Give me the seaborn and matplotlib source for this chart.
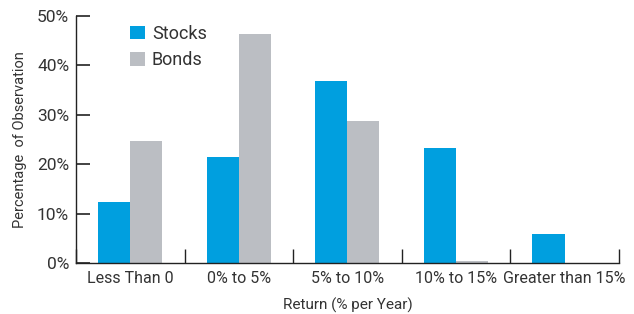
import numpy as np
import pandas as pd
import seaborn as sns
import matplotlib.pyplot as plt
from matplotlib.ticker import PercentFormatter, FixedLocator

categories = ["Less Than 0", "0% to 5%", "5% to 10%", "10% to 15%", "Greater than 15%"]
stocks = [12.3, 21.5, 36.8, 23.3, 5.9]
bonds = [24.7, 46.4, 28.7, 0.4, 0.0]

df = pd.DataFrame({
    "Return": categories * 2,
    "Pct": stocks + bonds,
    "Asset": ["Stocks"] * len(categories) + ["Bonds"] * len(categories),
})

sns.set_style("white", {"ytick.left": True, "xtick.bottom": True})
plt.rcParams["font.family"] = ["Roboto", "DejaVu Sans"]
text_col = "#333333"

fig = plt.figure(figsize=(6.34, 3.14), dpi=100)
ax = fig.add_axes([0.12, 0.162, 0.856, 0.787])

sns.barplot(data=df, x="Return", y="Pct", hue="Asset",
            palette={"Stocks": "#009FDF", "Bonds": "#BBBEC3"},
            width=0.59, saturation=1, linewidth=0, ax=ax, legend=True)

ax.set_xlim(-0.5, 4.5)
ax.set_ylim(0, 50)
ax.yaxis.set_major_locator(FixedLocator(np.arange(0, 51, 10)))
ax.yaxis.set_major_formatter(PercentFormatter(decimals=0))
ax.xaxis.set_minor_locator(FixedLocator(np.arange(-0.5, 4.6, 1)))

for side in ["top", "right"]:
    ax.spines[side].set_visible(False)
for side in ["left", "bottom"]:
    ax.spines[side].set_color("#222222")
    ax.spines[side].set_linewidth(1.0)

ax.yaxis.set_ticks_position("left")
ax.tick_params(axis="y", which="major", left=True, direction="in", length=10,
               width=1.2, color="#222222", labelsize=12.5, labelcolor=text_col, pad=5)
ax.tick_params(axis="x", which="major", bottom=False, length=0, labelsize=11.5,
               labelcolor=text_col, pad=6)
ax.tick_params(axis="x", which="minor", bottom=True, direction="in", length=10,
               width=1, color="#222222")

ax.set_xlabel("Return (% per Year)", fontsize=11, color=text_col, labelpad=8)
ax.set_ylabel("Percentage  of Observation", fontsize=10.5, color=text_col, labelpad=7)

ax.legend(loc="upper left", bbox_to_anchor=(0.07, 1.03), frameon=False,
          fontsize=13, handlelength=0.8, handleheight=0.8, handletextpad=0.4,
          labelspacing=0.45, labelcolor=text_col)

fig.savefig("out.png", dpi=100)
